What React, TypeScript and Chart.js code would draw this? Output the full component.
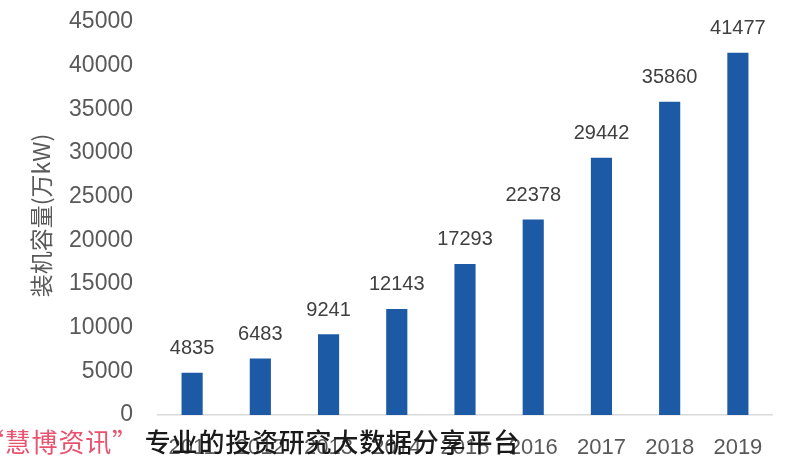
import React, { useEffect, useRef } from "react";
import { Chart, registerables } from "chart.js";

Chart.register(...registerables);

const years = ["2011", "2012", "2013", "2014", "2015", "2016", "2017", "2018", "2019"];
const capacity = [4835, 6483, 9241, 12143, 17293, 22378, 29442, 35860, 41477];
const yAxisTitle = "装机容量(万kW)";
const watermarkRed = "“慧博资讯”";
const watermarkBlack = "专业的投资研究大数据分享平台";

const valueLabels = {
  id: "valueLabels",
  afterDatasetsDraw(chart: any) {
    const ctx = chart.ctx;
    const meta = chart.getDatasetMeta(0);
    ctx.save();
    ctx.font = "20px 'Liberation Sans', Arial, sans-serif";
    ctx.fillStyle = "#404040";
    ctx.textAlign = "center";
    ctx.textBaseline = "middle";
    meta.data.forEach((el: any, i: number) => {
      ctx.fillText(String(capacity[i]), el.x, el.y - 24);
    });
    ctx.restore();
  },
};

const yTitle = {
  id: "yTitle",
  afterDraw(chart: any) {
    const ctx = chart.ctx;
    const area = chart.chartArea;
    ctx.save();
    ctx.translate(41, (area.top + area.bottom) / 2 - 3);
    ctx.rotate(-Math.PI / 2);
    ctx.font = "23px 'Noto Sans CJK SC', sans-serif";
    ctx.fillStyle = "#595959";
    ctx.textAlign = "center";
    ctx.textBaseline = "middle";
    ctx.fillText(yAxisTitle, 0, 0);
    ctx.restore();
  },
};

export default function App() {
  const ref = useRef<HTMLCanvasElement>(null);
  useEffect(() => {
    document.body.style.margin = "0";
    const chart = new Chart(ref.current!, {
      type: "bar",
      data: {
        labels: years,
        datasets: [
          {
            data: capacity,
            backgroundColor: "#1c5aa5",
            categoryPercentage: 1,
            barPercentage: 0.31,
          },
        ],
      },
      options: {
        animation: false,
        responsive: false,
        layout: { padding: { top: 22, right: 28, left: 0, bottom: 0 } },
        plugins: { legend: { display: false }, tooltip: { enabled: false } },
        scales: {
          x: {
            grid: { display: false, drawTicks: false },
            border: { display: true, color: "#d9d9d9", width: 1.5 },
            ticks: {
              color: "#595959",
              font: { size: 22, family: "'Liberation Sans', Arial, sans-serif" },
              padding: 20,
              maxRotation: 0,
            },
            afterFit(scale: any) {
              scale.height = 55;
              scale.paddingLeft = 0;
              scale.paddingRight = 0;
            },
          },
          y: {
            min: 0,
            max: 45000,
            grid: { display: false, drawTicks: false },
            border: { display: false },
            ticks: {
              stepSize: 5000,
              color: "#595959",
              font: { size: 23, family: "'Liberation Sans', Arial, sans-serif" },
              padding: 25,
              callback: (v: any) => String(v),
            },
            afterFit(scale: any) {
              scale.width = 158;
              scale.paddingTop = 0;
              scale.paddingBottom = 0;
            },
          },
        },
      },
      plugins: [valueLabels, yTitle],
    });
    return () => chart.destroy();
  }, []);

  return (
    <div style={{ position: "relative", width: 800, height: 470, overflow: "hidden", background: "#fff" }}>
      <canvas ref={ref} width={800} height={470} style={{ width: 800, height: 470, display: "block" }} />
      <div
        style={{
          position: "absolute",
          left: -22,
          top: 428,
          fontFamily: "'Noto Sans CJK SC', sans-serif",
          fontSize: 26,
          lineHeight: "26px",
          letterSpacing: "0.8px",
          whiteSpace: "nowrap",
        }}
      >
        <span style={{ color: "#e8536f" }}>{watermarkRed}</span>
        <span style={{ color: "#1a1a1a", marginLeft: 6, fontWeight: 500 }}>{watermarkBlack}</span>
      </div>
    </div>
  );
}
